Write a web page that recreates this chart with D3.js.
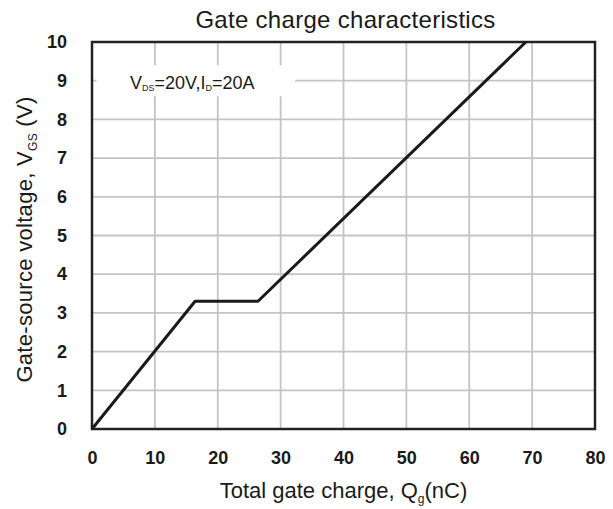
<!DOCTYPE html>
<html>
<head>
<meta charset="utf-8">
<script src="https://cdn.jsdelivr.net/npm/d3@7"></script>
<style>
  body { margin: 0; background: #fff; }
  text { font-family: "Liberation Sans", Arial, sans-serif; }
</style>
</head>
<body>
<div id="chart"></div>
<script>
// Gate charge curve (Qg in nC, VGS in V)
const qg = [0, 16.4, 26.4, 69];
const vgs = [0, 3.3, 3.3, 10];
const xTicks = [0, 10, 20, 30, 40, 50, 60, 70, 80];
const yTicks = [0, 1, 2, 3, 4, 5, 6, 7, 8, 9, 10];

const width = 613, height = 509;
const margin = { top: 42, right: 18, bottom: 80, left: 92 };

const svg = d3.select("#chart")
    .append("svg")
    .attr("width", width)
    .attr("height", height);

const x = d3.scaleLinear().domain([0, 80]).range([margin.left, width - margin.right]);
const y = d3.scaleLinear().domain([0, 10]).range([height - margin.bottom, margin.top]);

// grid
svg.append("g")
    .selectAll("line.vx")
    .data(xTicks.slice(1, -1))
    .enter().append("line")
    .attr("x1", d => x(d)).attr("x2", d => x(d))
    .attr("y1", y(0)).attr("y2", y(10))
    .attr("stroke", "#c4c4c4").attr("stroke-width", 1.8);

svg.append("g")
    .selectAll("line.hy")
    .data(yTicks.slice(1, -1))
    .enter().append("line")
    .attr("x1", x(0)).attr("x2", x(80))
    .attr("y1", d => y(d)).attr("y2", d => y(d))
    .attr("stroke", "#c4c4c4").attr("stroke-width", 1.8);

// white box behind the condition note
svg.append("rect")
    .attr("x", x(0.7)).attr("y", y(9.4))
    .attr("width", x(32.3) - x(0.7)).attr("height", y(8.6) - y(9.4))
    .attr("fill", "#fff");

// axes (labels only, bold)
const xAxis = svg.append("g")
    .attr("transform", "translate(0," + y(0) + ")")
    .call(d3.axisBottom(x).tickValues(xTicks).tickSize(0).tickPadding(22));
const yAxis = svg.append("g")
    .attr("transform", "translate(" + x(0) + ",0)")
    .call(d3.axisLeft(y).tickValues(yTicks).tickSize(0).tickPadding(25));
[xAxis, yAxis].forEach(g => {
    g.select(".domain").remove();
    g.selectAll("text")
        .attr("font-size", 18)
        .attr("font-weight", "bold")
        .attr("fill", "#1a1a1a")
        .style("font-family", "'Liberation Sans', Arial, sans-serif");
});

// frame
svg.append("rect")
    .attr("x", x(0)).attr("y", y(10))
    .attr("width", x(80) - x(0)).attr("height", y(0) - y(10))
    .attr("fill", "none").attr("stroke", "#222").attr("stroke-width", 2.5);

// curve
const line = d3.line().x((d, i) => x(qg[i])).y((d, i) => y(vgs[i]));
svg.append("path")
    .datum(qg)
    .attr("d", line)
    .attr("fill", "none")
    .attr("stroke", "#1a1a1a")
    .attr("stroke-width", 3)
    .attr("stroke-linejoin", "round");

// note
const note = svg.append("text")
    .attr("x", 130).attr("y", 89)
    .attr("font-size", 18).attr("fill", "#1a1a1a");
note.append("tspan").text("V");
note.append("tspan").attr("font-size", 9).attr("dy", 2).text("DS");
note.append("tspan").attr("dy", -2).text("=20V,I");
note.append("tspan").attr("font-size", 9).attr("dy", 2).text("D");
note.append("tspan").attr("dy", -2).text("=20A");

// title
svg.append("text")
    .attr("x", x(40) + 2).attr("y", 28)
    .attr("text-anchor", "middle")
    .attr("font-size", 24).attr("letter-spacing", 0.3).attr("fill", "#1a1a1a")
    .text("Gate charge characteristics");

// x label
const xl = svg.append("text")
    .attr("x", x(40)).attr("y", 498)
    .attr("text-anchor", "middle")
    .attr("font-size", 22).attr("fill", "#1a1a1a");
xl.append("tspan").text("Total gate charge, Q");
xl.append("tspan").attr("font-size", 12).attr("dy", 5).text("g");
xl.append("tspan").attr("dy", -5).text("(nC)");

// y label
const yl = svg.append("text")
    .attr("transform", "translate(32," + (y(5) + 4) + ") rotate(-90)")
    .attr("text-anchor", "middle")
    .attr("font-size", 22).attr("letter-spacing", 0.3).attr("fill", "#1a1a1a");
yl.append("tspan").text("Gate-source voltage, V");
yl.append("tspan").attr("font-size", 12).attr("dy", 5).text("GS");
yl.append("tspan").attr("dy", -5).text(" (V)");
</script>
</body>
</html>
